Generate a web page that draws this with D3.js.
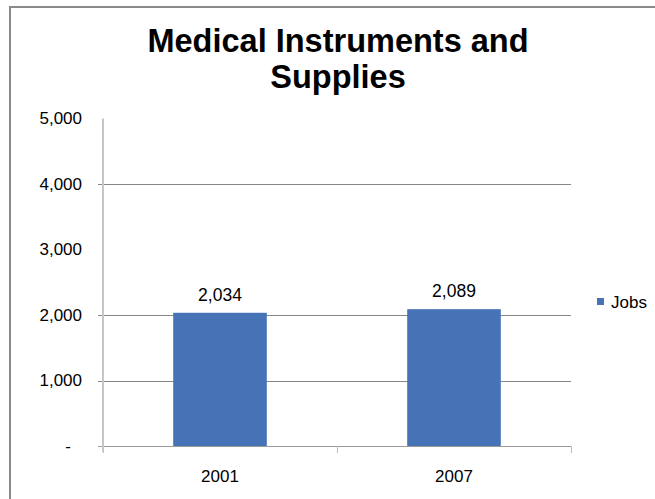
<!DOCTYPE html>
<html>
<head>
<meta charset="utf-8">
<script src="https://cdn.jsdelivr.net/npm/d3@7/dist/d3.min.js"></script>
<style>
  html, body { margin: 0; padding: 0; background: #ffffff; }
  svg { display: block; }
  text { font-family: "Liberation Sans", Arial, sans-serif; fill: #000; }
</style>
</head>
<body>
<svg id="chart" width="655" height="499"></svg>
<script>
// Chart data
const titleLines = ["Medical Instruments and", "Supplies"];
const years = ["2001", "2007"];
const jobs = [2034, 2089];
const seriesName = "Jobs";
const yTicks = [0, 1000, 2000, 3000, 4000, 5000];
const gridValues = [1000, 2000, 4000];

const svg = d3.select("#chart");
const plot = { left: 103, right: 571, top: 118.5, bottom: 446 };
const barColor = "#4673b6";

// Outer chart frame (runs past the right and bottom edges)
svg.append("rect")
  .attr("x", 10).attr("y", 7)
  .attr("width", 700).attr("height", 600)
  .attr("fill", "#fff")
  .attr("stroke", "#8a8a8a")
  .attr("stroke-width", 2);

// Title
svg.append("g").selectAll("text")
  .data(titleLines)
  .join("text")
  .attr("x", 338)
  .attr("y", (d, i) => 52 + i * 36)
  .attr("text-anchor", "middle")
  .style("font-size", "32.5px")
  .style("font-weight", "bold")
  .text(d => d);

const x = d3.scaleBand()
  .domain(years)
  .range([plot.left, plot.right])
  .paddingInner(0.6)
  .paddingOuter(0.3);

const y = d3.scaleLinear()
  .domain([0, 5000])
  .range([plot.bottom, plot.top]);

// Horizontal gridlines
svg.append("g").selectAll("line")
  .data(gridValues)
  .join("line")
  .attr("x1", plot.left - 5).attr("x2", plot.right)
  .attr("y1", d => Math.round(y(d)) + 0.5)
  .attr("y2", d => Math.round(y(d)) + 0.5)
  .attr("stroke", "#878787")
  .attr("stroke-width", 1);

// Bars
svg.append("g").selectAll("rect")
  .data(jobs)
  .join("rect")
  .attr("x", (d, i) => x(years[i]))
  .attr("width", x.bandwidth())
  .attr("y", d => y(d))
  .attr("height", d => y(0) - y(d))
  .attr("fill", barColor);

// Value labels above bars
svg.append("g").selectAll("text")
  .data(jobs)
  .join("text")
  .attr("x", (d, i) => x(years[i]) + x.bandwidth() / 2)
  .attr("y", d => y(d) - 12)
  .attr("text-anchor", "middle")
  .style("font-size", "17.5px")
  .text(d => d3.format(",")(d));

// Category axis line and tick marks
const xAxisG = svg.append("g");
xAxisG.append("line")
  .attr("x1", plot.left - 5).attr("x2", plot.right)
  .attr("y1", plot.bottom + 0.5).attr("y2", plot.bottom + 0.5)
  .attr("stroke", "#9a9a9a");
const boundaries = [plot.left, ...years.map(d => x(d) + x.bandwidth() / 2 + x.step() / 2)];
xAxisG.selectAll("line.tk")
  .data(boundaries)
  .join("line")
  .attr("class", "tk")
  .attr("x1", d => Math.round(d) + 0.5).attr("x2", d => Math.round(d) + 0.5)
  .attr("y1", plot.bottom).attr("y2", plot.bottom + 7)
  .attr("stroke", "#bdbdbd");

// Category labels
xAxisG.selectAll("text")
  .data(years)
  .join("text")
  .attr("x", d => x(d) + x.bandwidth() / 2)
  .attr("y", 482)
  .attr("text-anchor", "middle")
  .style("font-size", "17px")
  .text(d => d);

// Value axis line
svg.append("line")
  .attr("x1", plot.left).attr("x2", plot.left)
  .attr("y1", plot.top).attr("y2", plot.bottom + 6)
  .attr("stroke", "#c6c6c6")
  .attr("stroke-width", 2);

// Value axis labels (accounting style: zero shown as a dash)
const yAxis = d3.axisLeft(y)
  .tickValues(yTicks)
  .tickSize(0)
  .tickPadding(21)
  .tickFormat(d => d === 0 ? "-" : d3.format(",")(d));
const yAxisG = svg.append("g")
  .attr("transform", `translate(${plot.left},0)`)
  .call(yAxis);
yAxisG.select(".domain").remove();
yAxisG.selectAll("text")
  .style("font-family", "'Liberation Sans', Arial, sans-serif")
  .style("font-size", "17px")
  .attr("fill", "#000")
  .attr("dx", d => d === 0 ? -11 : 0);

// Legend
const legend = svg.append("g").attr("transform", "translate(597,298)");
legend.append("rect")
  .attr("width", 7).attr("height", 7)
  .attr("fill", barColor);
legend.append("text")
  .attr("x", 14).attr("y", 10)
  .style("font-size", "17px")
  .text(seriesName);
</script>
</body>
</html>
